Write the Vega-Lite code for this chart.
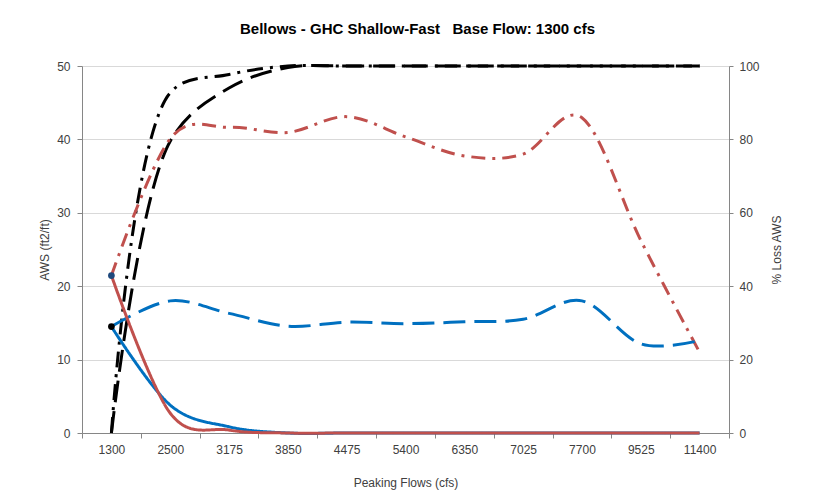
{
  "$schema": "https://vega.github.io/schema/vega-lite/v6.json",
  "width": 647,
  "height": 367,
  "autosize": {"type": "none"},
  "padding": {"left": 82, "top": 66, "right": 89, "bottom": 71},
  "background": "white",
  "title": {
    "text": "Bellows - GHC Shallow-Fast\u00a0\u00a0\u00a0Base Flow: 1300 cfs",
    "font": "Liberation Sans",
    "fontSize": 15,
    "fontWeight": "bold",
    "color": "#000000",
    "anchor": "middle",
    "frame": "group",
    "offset": 22,
    "dx": 12
  },
  "config": {
    "font": "Liberation Sans",
    "view": {"stroke": null},
    "axis": {
      "labelFont": "Liberation Sans",
      "labelFontSize": 12,
      "labelColor": "#404040",
      "titleFont": "Liberation Sans",
      "titleFontSize": 12,
      "titleFontWeight": "normal",
      "titleColor": "#404040",
      "domainColor": "#868686",
      "tickColor": "#868686",
      "tickSize": 5,
      "gridColor": "#D9D9D9",
      "gridWidth": 1
    }
  },
  "data": {
    "values": [
      {"f": "1300", "s": "AWS blue", "v": 14.5},
      {"f": "2500", "s": "AWS blue", "v": 3.8},
      {"f": "3175", "s": "AWS blue", "v": 0.85},
      {"f": "3850", "s": "AWS blue", "v": 0},
      {"f": "4475", "s": "AWS blue", "v": 0},
      {"f": "5400", "s": "AWS blue", "v": 0},
      {"f": "6350", "s": "AWS blue", "v": 0},
      {"f": "7025", "s": "AWS blue", "v": 0},
      {"f": "7700", "s": "AWS blue", "v": 0},
      {"f": "9525", "s": "AWS blue", "v": 0},
      {"f": "11400", "s": "AWS blue", "v": 0},
      {"f": "1300", "s": "AWS red", "v": 21.45},
      {"f": "2500", "s": "AWS red", "v": 2.7},
      {"f": "3175", "s": "AWS red", "v": 0.4},
      {"f": "3850", "s": "AWS red", "v": 0},
      {"f": "4475", "s": "AWS red", "v": 0},
      {"f": "5400", "s": "AWS red", "v": 0},
      {"f": "6350", "s": "AWS red", "v": 0},
      {"f": "7025", "s": "AWS red", "v": 0},
      {"f": "7700", "s": "AWS red", "v": 0},
      {"f": "9525", "s": "AWS red", "v": 0},
      {"f": "11400", "s": "AWS red", "v": 0},
      {"f": "1300", "s": "Loss red", "v": 42.9},
      {"f": "2500", "s": "Loss red", "v": 80.2},
      {"f": "3175", "s": "Loss red", "v": 83.3},
      {"f": "3850", "s": "Loss red", "v": 81.9},
      {"f": "4475", "s": "Loss red", "v": 86.2},
      {"f": "5400", "s": "Loss red", "v": 80.7},
      {"f": "6350", "s": "Loss red", "v": 75.5},
      {"f": "7025", "s": "Loss red", "v": 76.0},
      {"f": "7700", "s": "Loss red", "v": 85.9},
      {"f": "9525", "s": "Loss red", "v": 52.5},
      {"f": "11400", "s": "Loss red", "v": 22.0},
      {"f": "1300", "s": "Loss blue", "v": 29.0},
      {"f": "2500", "s": "Loss blue", "v": 36.0},
      {"f": "3175", "s": "Loss blue", "v": 32.6},
      {"f": "3850", "s": "Loss blue", "v": 29.1},
      {"f": "4475", "s": "Loss blue", "v": 30.2},
      {"f": "5400", "s": "Loss blue", "v": 29.8},
      {"f": "6350", "s": "Loss blue", "v": 30.3},
      {"f": "7025", "s": "Loss blue", "v": 31.0},
      {"f": "7700", "s": "Loss blue", "v": 36.0},
      {"f": "9525", "s": "Loss blue", "v": 24.3},
      {"f": "11400", "s": "Loss blue", "v": 25.2},
      {"f": "1300", "s": "Black dashdot", "v": 0},
      {"f": "2500", "s": "Black dashdot", "v": 92.7},
      {"f": "3175", "s": "Black dashdot", "v": 97.7},
      {"f": "3850", "s": "Black dashdot", "v": 100},
      {"f": "4475", "s": "Black dashdot", "v": 100},
      {"f": "5400", "s": "Black dashdot", "v": 100},
      {"f": "6350", "s": "Black dashdot", "v": 100},
      {"f": "7025", "s": "Black dashdot", "v": 100},
      {"f": "7700", "s": "Black dashdot", "v": 100},
      {"f": "9525", "s": "Black dashdot", "v": 100},
      {"f": "11400", "s": "Black dashdot", "v": 100},
      {"f": "1300", "s": "Black dash", "v": 0},
      {"f": "2500", "s": "Black dash", "v": 79.5},
      {"f": "3175", "s": "Black dash", "v": 94.0},
      {"f": "3850", "s": "Black dash", "v": 99.6},
      {"f": "4475", "s": "Black dash", "v": 100},
      {"f": "5400", "s": "Black dash", "v": 100},
      {"f": "6350", "s": "Black dash", "v": 100},
      {"f": "7025", "s": "Black dash", "v": 100},
      {"f": "7700", "s": "Black dash", "v": 100},
      {"f": "9525", "s": "Black dash", "v": 100},
      {"f": "11400", "s": "Black dash", "v": 100},
      {"f": "1300", "s": "Marker red start", "v": 21.45},
      {"f": "1300", "s": "Marker blue start", "v": 14.5}
    ]
  },
  "encoding": {
    "x": {
      "field": "f",
      "type": "ordinal",
      "sort": ["1300", "2500", "3175", "3850", "4475", "5400", "6350", "7025", "7700", "9525", "11400"],
      "scale": {"paddingInner": 0, "paddingOuter": 0},
      "axis": {
        "title": "Peaking Flows (cfs)",
        "labelAngle": 0,
        "tickBand": "extent",
        "labelPadding": 6,
        "titlePadding": 22
      }
    },
    "color": {
      "field": "s",
      "type": "nominal",
      "legend": null,
      "scale": {
        "domain": ["AWS red", "AWS blue", "Loss red", "Loss blue", "Black dashdot", "Black dash", "Marker red start", "Marker blue start"],
        "range": ["#C0504D", "#0070C0", "#C0504D", "#0070C0", "#000000", "#000000", "#1F497D", "#000000"]
      }
    },
    "strokeDash": {
      "field": "s",
      "type": "nominal",
      "legend": null,
      "scale": {
        "domain": ["AWS red", "AWS blue", "Loss red", "Loss blue", "Black dashdot", "Black dash", "Marker red start", "Marker blue start"],
        "range": [[1, 0], [1, 0], [14, 7, 3, 7], [22, 9], [16, 7, 3, 7], [22, 9], [1, 0], [1, 0]]
      }
    }
  },
  "layer": [
    {
      "layer": [
        {
          "transform": [{"filter": "indexof(datum.s, 'Black') == 0"}],
          "mark": {"type": "line", "interpolate": "catmull-rom", "strokeWidth": 3, "strokeCap": "butt"},
          "encoding": {
            "y": {
              "field": "v",
              "type": "quantitative",
              "scale": {"domain": [0, 100], "nice": false},
              "axis": {
                "orient": "right",
                "title": "% Loss AWS",
                "titleAngle": 270,
                "values": [0, 20, 40, 60, 80, 100],
                "grid": false,
                "tickSize": 4,
                "labelPadding": 6,
                "titlePadding": 24
              }
            }
          }
        },
        {
          "transform": [{"filter": "indexof(datum.s, 'Loss') == 0"}],
          "mark": {"type": "line", "interpolate": "cardinal", "strokeWidth": 3, "strokeCap": "butt"},
          "encoding": {
            "y": {
              "field": "v",
              "type": "quantitative",
              "scale": {"domain": [0, 100], "nice": false},
              "axis": {
                "orient": "right",
                "title": "% Loss AWS",
                "titleAngle": 270,
                "values": [0, 20, 40, 60, 80, 100],
                "grid": false,
                "tickSize": 4,
                "labelPadding": 6,
                "titlePadding": 24
              }
            }
          }
        }
      ]
    },
    {
      "layer": [
        {
          "transform": [{"filter": "indexof(datum.s, 'AWS') == 0"}],
          "mark": {"type": "line", "interpolate": "cardinal", "strokeWidth": 3},
          "encoding": {
            "y": {
              "field": "v",
              "type": "quantitative",
              "scale": {"domain": [0, 50], "nice": false},
              "axis": {
                "orient": "left",
                "title": "AWS (ft2/ft)",
                "values": [0, 10, 20, 30, 40, 50],
                "grid": true,
                "labelPadding": 7,
                "titlePadding": 5
              }
            }
          }
        },
        {
          "transform": [{"filter": "indexof(datum.s, 'Marker') == 0"}],
          "mark": {"type": "point", "filled": true, "opacity": 1, "size": 45},
          "encoding": {
            "y": {"field": "v", "type": "quantitative"},
            "strokeDash": {"value": [1, 0]}
          }
        }
      ]
    }
  ],
  "resolve": {"scale": {"y": "independent"}}
}
